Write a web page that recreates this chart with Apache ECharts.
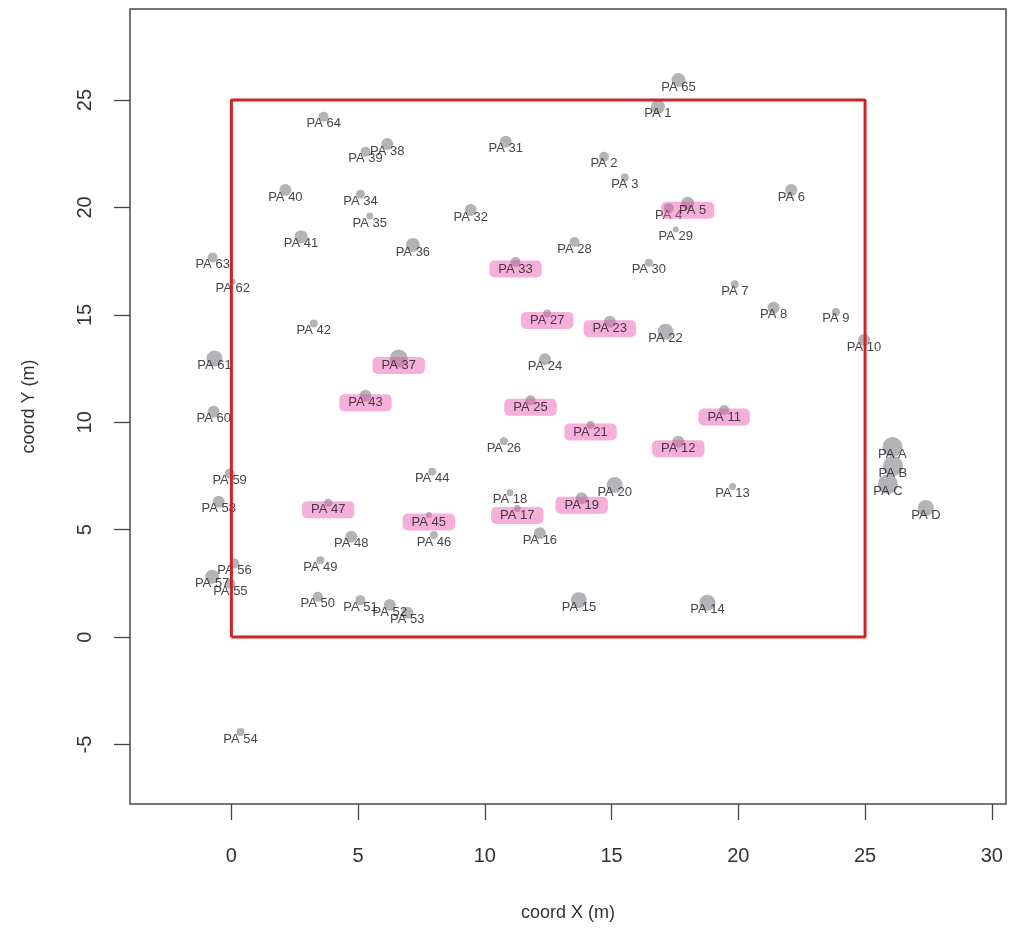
<!DOCTYPE html>
<html>
<head>
<meta charset="utf-8">
<script src="https://cdn.jsdelivr.net/npm/echarts@6/dist/echarts.min.js"></script>
<style>
html,body{margin:0;padding:0;background:#fff;}
#chart{width:1011px;height:933px;}
</style>
</head>
<body>
<div id="chart"></div>
<script>
// ---- data ----
const names = ['PA 1','PA 2','PA 3','PA 4','PA 5','PA 6','PA 7','PA 8','PA 9','PA 10',
  'PA 11','PA 12','PA 13','PA 14','PA 15','PA 16','PA 17','PA 18','PA 19','PA 20',
  'PA 21','PA 22','PA 23','PA 24','PA 25','PA 26','PA 27','PA 28','PA 29','PA 30',
  'PA 31','PA 32','PA 33','PA 34','PA 35','PA 36','PA 37','PA 38','PA 39','PA 40',
  'PA 41','PA 42','PA 43','PA 44','PA 45','PA 46','PA 47','PA 48','PA 49','PA 50',
  'PA 51','PA 52','PA 53','PA 54','PA 55','PA 56','PA 57','PA 58','PA 59','PA 60',
  'PA 61','PA 62','PA 63','PA 64','PA 65','PA A','PA B','PA C','PA D'];
const coordX = [16.83,14.70,15.52,17.25,18.00,22.09,19.86,21.39,23.85,24.96,
  19.44,17.63,19.77,18.78,13.71,12.17,11.28,10.99,13.82,15.12,
  14.17,17.13,14.93,12.37,11.80,10.75,12.46,13.54,17.53,16.47,
  10.82,9.44,11.21,5.09,5.46,7.16,6.60,6.15,5.29,2.13,
  2.75,3.25,5.29,7.92,7.79,7.99,3.82,4.73,3.51,3.41,
  5.09,6.25,6.94,0.36,-0.04,0.12,-0.76,-0.50,-0.07,-0.70,
  -0.67,0.05,-0.74,3.64,17.64,26.08,26.10,25.90,27.40];
const coordY = [24.69,22.36,21.40,19.97,20.20,20.81,16.43,15.33,15.14,13.83,
  10.57,9.09,7.01,1.60,1.72,4.83,5.99,6.72,6.46,7.08,
  9.87,14.21,14.68,12.93,11.03,9.12,15.07,18.39,18.98,17.43,
  23.06,19.88,17.46,20.62,19.60,18.25,12.97,22.95,22.59,20.81,
  18.64,14.60,11.23,7.70,5.68,4.75,6.25,4.67,3.58,1.88,
  1.72,1.49,1.13,-4.42,2.47,3.43,2.81,6.30,7.62,10.49,
  12.97,16.54,17.67,24.22,25.93,8.85,7.96,7.12,6.01];
const crown = [14,10,8,10,13,12,8,12,8,12,
  10,12,7,16,16,12,7,7,12,16,
  8,16,12,12,10,8,8,10,6,8,
  12,12,10,9,7,14,18,12,10,12,
  13,8,12,8,6,8,8,12,8,10,
  10,12,12,8,10,10,14,12,10,12,
  16,6,10,10,14,20,20,20,16];
const marked = ['PA 5','PA 33','PA 27','PA 23','PA 37','PA 43','PA 25','PA 21',
  'PA 11','PA 12','PA 47','PA 45','PA 17','PA 19'];
const plotX = [0,25,25,0,0];
const plotY = [0,0,25,25,0];
const xTicks = [0,5,10,15,20,25,30];
const yTicks = [-5,0,5,10,15,20,25];

// ---- chart ----
const FONT = '"Liberation Sans", Arial, Helvetica, sans-serif';
const pointData = names.map((n, i) => {
  const item = { name: n, value: [coordX[i], coordY[i], crown[i]] };
  if (marked.indexOf(n) >= 0) {
    item.label = {
      backgroundColor: 'rgba(234,84,175,0.55)',
      padding: n === 'PA 5' ? [2, 8, 2, 18] : [2, 9, 2, 9],
      borderRadius: 5
    };
  }
  return item;
});

const chart = echarts.init(document.getElementById('chart'), null, { renderer: 'canvas' });
chart.setOption({
  backgroundColor: '#ffffff',
  animation: false,
  grid: {
    left: 130, right: 5, top: 9, bottom: 129,
    show: true, borderColor: '#4a4a4a', borderWidth: 1.5, backgroundColor: 'transparent'
  },
  xAxis: {
    type: 'value', min: -4.0, max: 30.56,
    name: 'coord X (m)', nameLocation: 'middle', nameGap: 100,
    nameTextStyle: { fontFamily: FONT, fontSize: 18, color: '#333' },
    splitLine: { show: false },
    axisLine: { show: false, onZero: false },
    axisTick: { show: true, customValues: xTicks, length: 16, lineStyle: { color: '#444', width: 1.3 } },
    axisLabel: { customValues: xTicks, fontFamily: FONT, fontSize: 20, color: '#333', margin: 42 }
  },
  yAxis: {
    type: 'value', min: -7.77, max: 29.24,
    name: 'coord Y (m)', nameLocation: 'middle', nameGap: 92, nameRotate: 90,
    nameTextStyle: { fontFamily: FONT, fontSize: 18, color: '#333' },
    splitLine: { show: false },
    axisLine: { show: false, onZero: false },
    axisTick: { show: true, customValues: yTicks, length: 16, lineStyle: { color: '#444', width: 1.3 } },
    axisLabel: { customValues: yTicks, rotate: 90, fontFamily: FONT, fontSize: 20, color: '#333', margin: 35 }
  },
  series: [
    {
      type: 'scatter',
      data: pointData,
      symbol: 'circle',
      symbolSize: v => v[2],
      itemStyle: { color: '#a6a6ab', opacity: 0.85 },
      label: {
        show: true,
        formatter: p => p.name,
        position: 'inside',
        offset: [0, 7],
        fontFamily: FONT,
        fontSize: 13,
        color: '#262626'
      },
      z: 2
    },
    {
      type: 'line',
      data: plotX.map((x, i) => [x, plotY[i]]),
      symbol: 'none',
      silent: true,
      lineStyle: { color: '#cf2326', width: 3 },
      z: 5
    }
  ]
});
</script>
</body>
</html>
